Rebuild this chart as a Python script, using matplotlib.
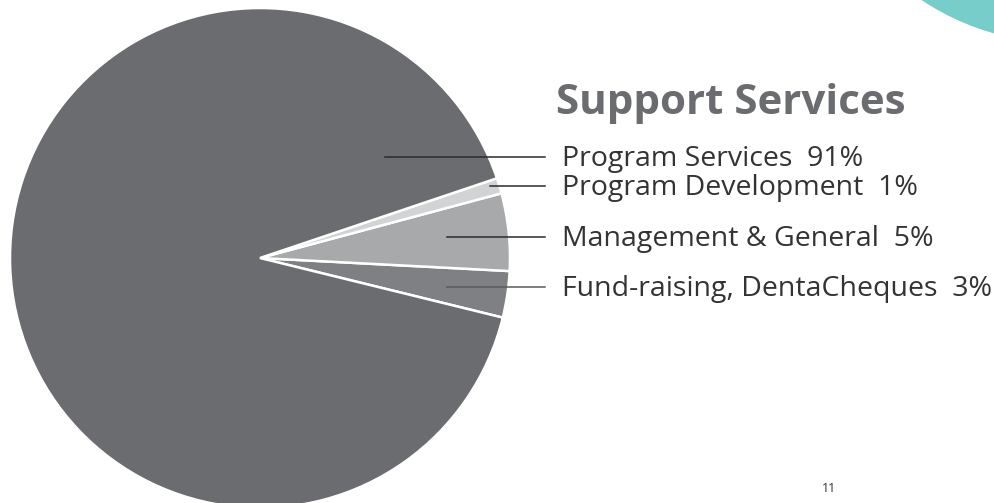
import matplotlib
matplotlib.use("Agg")
import matplotlib.pyplot as plt
from matplotlib.patches import Circle

# Data
categories = ["Fund-raising, DentaCheques", "Management & General", "Program Development", "Program Services"]
percents = [3, 5, 1, 91]
colors = ["#7f8083", "#a7a9ab", "#d2d3d4", "#6b6c70"]
title = "Support Services"
page_number = "11"

W, H = 995, 503
fig = plt.figure(figsize=(W / 100, H / 100), dpi=100)
ax = fig.add_axes([0, 0, 1, 1])

# teal decoration in corner
ax.add_patch(Circle((1062, H + 210), 252, color="#76cdc9", zorder=0))

cx, cy, r = 260, H - 258, 250
ax.pie(percents, colors=colors, startangle=-13.8, counterclock=True,
       center=(cx, cy), radius=r, frame=True,
       wedgeprops=dict(edgecolor="white", linewidth=1.8))
ax.set_xlim(0, W)
ax.set_ylim(0, H)
ax.set_aspect("equal")
ax.axis("off")

# leader lines and labels (pixel y from top)
label_y = {"Program Services": 157, "Program Development": 186,
           "Management & General": 237, "Fund-raising, DentaCheques": 287}
line_start = {"Program Services": 385, "Program Development": 490,
              "Management & General": 447, "Fund-raising, DentaCheques": 447}
line_col = {"Program Services": "#2b2b2d", "Program Development": "#2b2b2d",
            "Management & General": "#2b2b2d", "Fund-raising, DentaCheques": "#5a5b5e"}
font = "Open Sans"
for cat, p in zip(categories, percents):
    y = H - label_y[cat]
    ax.plot([line_start[cat], 545], [y, y], color=line_col[cat], lw=1.1, zorder=5)
    ax.text(562, y - 2, f"{cat}  {p}%", fontsize=20.5, family=font, color="#333335",
            va="center", ha="left")

ax.text(556, H - 103, title, fontsize=30.3, family=font, fontweight="bold",
        color="#6b6c70", va="center", ha="left")
ax.text(829, H - 489, page_number, fontsize=9, family=font, color="#333335",
        va="center", ha="center")

fig.savefig("out.png", dpi=100)
